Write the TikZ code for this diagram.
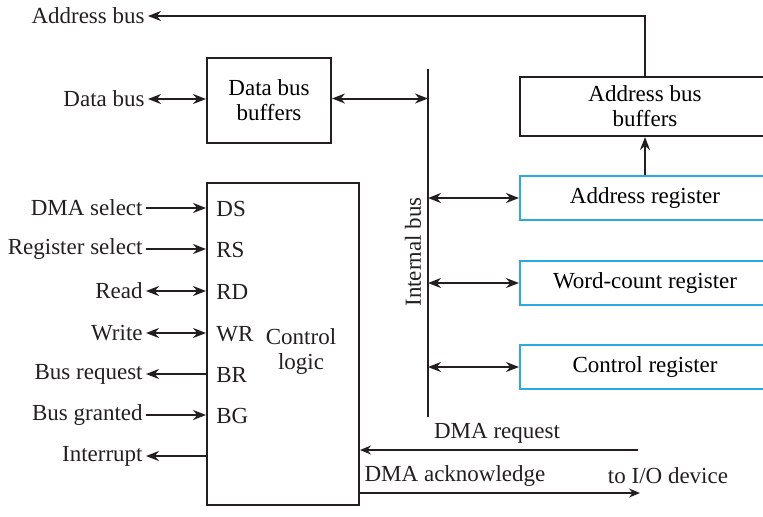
\documentclass[tikz,border=0pt]{standalone}
\usepackage{fontspec}
\setmainfont{Liberation Serif}
\usepackage{tikz}
\usetikzlibrary{arrows.meta, positioning, calc}
\definecolor{mydark}{RGB}{35,31,32}
\definecolor{myblue}{RGB}{41,171,226}
\tikzset{
  block/.style={rectangle, draw=mydark, fill=white, align=center,
    line width=1pt, inner sep=0pt, font=\fontsize{11.5}{12.5}\selectfont},
  regblock/.style={rectangle, draw=myblue, fill=white, align=center,
    minimum width=125pt, minimum height=22pt,
    line width=1pt, inner sep=0pt, font=\fontsize{11.5}{12.5}\selectfont},
  lbl/.style={inner sep=1.5pt, color=mydark, font=\fontsize{11.5}{12.5}\selectfont},
  pin/.style={anchor=west, inner sep=0pt, color=mydark, font=\fontsize{11.5}{12.5}\selectfont},
  arrow/.style={-{Stealth[length=6.5pt, width=5pt]}, line width=1pt, color=mydark},
  backarrow/.style={{Stealth[length=6.5pt, width=5pt]}-, line width=1pt, color=mydark},
  dblarrow/.style={{Stealth[length=6.5pt, width=5pt]}-{Stealth[length=6.5pt, width=5pt]},
    line width=1pt, color=mydark},
  thinarrow/.style={-{Stealth[length=5.5pt, width=4.5pt]}, line width=0.6pt, color=mydark},
  busline/.style={line width=1.2pt, color=mydark}
}

\begin{document}
\begin{tikzpicture}[x=0.5pt, y=-0.5pt]
  \useasboundingbox (0,0) rectangle (763,516);
  % Buffers
  \node[block, minimum width=62pt, minimum height=42.5pt] (dbb) at (269,100.5) {Data bus\\buffers};
  \node[block, minimum width=125pt, minimum height=29.5pt] (abb) at (645,106.5) {Address bus\\buffers};
  % Registers
  \node[regblock] (areg) at (645,198) {Address register};
  \node[regblock] (wcreg) at (645,283) {Word-count register};
  \node[regblock] (creg) at (645,367) {Control register};
  % Internal bus
  \coordinate (bustop) at (428,69);
  \coordinate (busbot) at (428,417);
  \draw[busline] (bustop) -- (busbot);
  \node[lbl, rotate=90] (buslbl) at (413,252) {Internal bus};
  % System buses
  \node[lbl, anchor=east] (addrbus) at (148,16) {Address bus};
  \node[lbl, anchor=east] (databus) at (148,99) {Data bus};
  \draw[arrow] (abb.north) |- (addrbus.east);
  \draw[dblarrow] (databus.east) -- (databus.east -| dbb.west);
  \draw[dblarrow] ($(dbb.east)+(0,-2)$) -- ($(dbb.east -| bustop)+(0,-2)$);
  \draw[arrow] (areg.north) -- (abb.south);
  \draw[dblarrow] (areg.west -| bustop) -- (areg.west);
  \draw[dblarrow] (wcreg.west -| bustop) -- (wcreg.west);
  \draw[dblarrow] (creg.west -| bustop) -- (creg.west);
  % Control logic
  \node[block, minimum width=76pt, minimum height=161pt] (ctrl) at (283,344) {};
  \node[lbl, align=center] (ctrltxt) at (301,351) {Control\\logic};
  \node[pin] (ds) at (216,209) {DS};
  \node[pin] (rs) at (216,250) {RS};
  \node[pin] (rd) at (216,292) {RD};
  \node[pin] (wr) at (216,334) {WR};
  \node[pin] (br) at (216,375) {BR};
  \node[pin] (bg) at (216,416) {BG};
  \node[lbl, anchor=east] (dmasel) at (146,208) {DMA select};
  \node[lbl, anchor=east] (regsel) at (146,249) {Register select};
  \node[lbl, anchor=east] (read) at (146,291) {Read};
  \node[lbl, anchor=east] (write) at (146,333) {Write};
  \node[lbl, anchor=east] (busreq) at (146,374) {Bus request};
  \node[lbl, anchor=east] (busgnt) at (146,415) {Bus granted};
  \node[lbl, anchor=east] (intr) at (146,456) {Interrupt};
  \draw[arrow] (dmasel.east) -- (dmasel.east -| ctrl.west);
  \draw[arrow] (regsel.east) -- (regsel.east -| ctrl.west);
  \draw[dblarrow] (read.east) -- (read.east -| ctrl.west);
  \draw[dblarrow] (write.east) -- (write.east -| ctrl.west);
  \draw[backarrow] (busreq.east) -- (busreq.east -| ctrl.west);
  \draw[arrow] (busgnt.east) -- (busgnt.east -| ctrl.west);
  \draw[backarrow] (intr.east) -- (intr.east -| ctrl.west);
  % DMA request / acknowledge
  \coordinate (dmareq) at (638,450);
  \coordinate (dmaack) at (640,493);
  \draw[thinarrow] (dmareq) -- (dmareq -| ctrl.east);
  \draw[thinarrow] (dmaack -| ctrl.east) -- (dmaack);
  \node[lbl] (reqlbl) at (497,433) {DMA request};
  \node[lbl] (acklbl) at (455,476) {DMA acknowledge};
  \node[lbl] (iolbl) at (668,476) {to I/O device};
\end{tikzpicture}
\end{document}
